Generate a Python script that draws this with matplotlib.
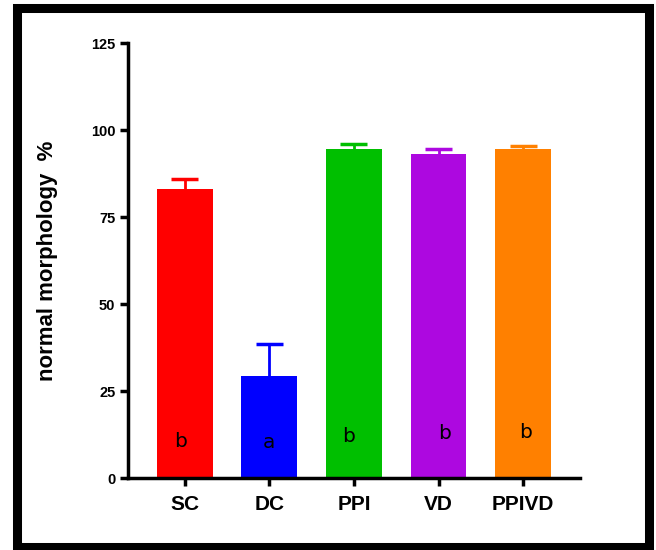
import matplotlib
import matplotlib.pyplot as plt
from matplotlib.patches import Rectangle

matplotlib.use("Agg")

groups = ["SC", "DC", "PPI", "VD", "PPIVD"]
means = [83.0, 29.3, 94.6, 93.0, 94.6]
errors = [3.0, 9.1, 1.3, 1.5, 0.8]
colors = ["#ff0000", "#0000ff", "#00bf00", "#ad08e0", "#ff8000"]
letters = ["b", "a", "b", "b", "b"]
letter_y = [10.5, 10.2, 12.0, 12.8, 13.2]
letter_dx = [-0.05, 0.0, -0.06, 0.07, 0.03]

plt.rcParams["font.family"] = ["Liberation Sans", "DejaVu Sans"]

fig = plt.figure(figsize=(6.56, 5.5), dpi=100)
ax = fig.add_axes([0.195, 0.1309, 0.689, 0.7909])

x = list(range(len(groups)))
ax.bar(x, means, width=0.66, color=colors, zorder=2)
# one-sided (upper) error bars with caps
cap = 0.16
for xi, m, e, c in zip(x, means, errors, colors):
    ax.vlines(xi, m, m + e, color=c, linewidth=2, zorder=3)
    ax.hlines(m + e, xi - cap, xi + cap, color=c, linewidth=2.5, zorder=3)

for xi, lab, ly, dx in zip(x, letters, letter_y, letter_dx):
    ax.text(xi + dx, ly, lab, ha="center", va="center", fontsize=14.5,
            family="DejaVu Sans", color="black", zorder=4)

ax.set_xlim(-0.67, 4.67)
ax.set_ylim(0, 125)
ax.set_yticks([0, 25, 50, 75, 100, 125])
ax.set_xticks(x)
ax.set_xticklabels(groups, fontsize=15, fontweight="bold")
for t in ax.get_yticklabels():
    t.set_fontweight("bold")
    t.set_fontsize(10.5)

for side in ["top", "right"]:
    ax.spines[side].set_visible(False)
for side in ["left", "bottom"]:
    ax.spines[side].set_linewidth(2.5)
ax.tick_params(axis="both", width=2.5, length=6, pad=3)
ax.tick_params(axis="x", pad=6)

ax.set_ylabel("normal morphology  %", fontsize=16, fontweight="bold", labelpad=24)

fig.patches.append(Rectangle((16.5 / 656, 1 - 546.5 / 550),
                             (648.5 - 16.5) / 656, (546.5 - 7.5) / 550,
                             transform=fig.transFigure, fill=False,
                             edgecolor="black", linewidth=6.5))

fig.savefig("out.png", dpi=100)
